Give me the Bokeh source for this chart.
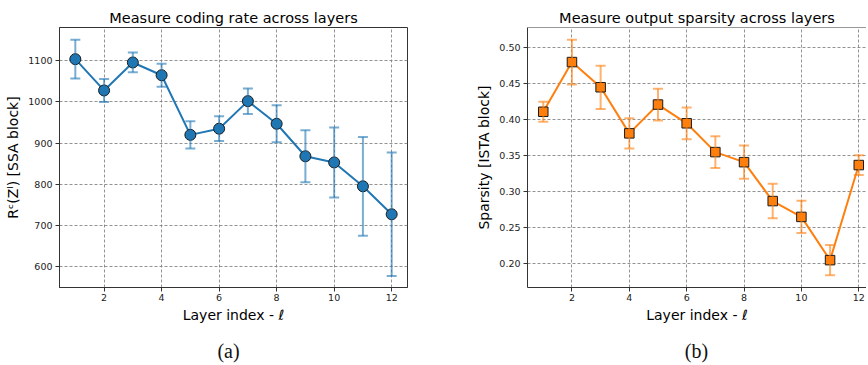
from bokeh.plotting import figure
from bokeh.models import ColumnDataSource, Whisker, TeeHead, FixedTicker, Range1d, Span, Label, NumeralTickFormatter
from bokeh.layouts import row, column
from bokeh.embed import file_html
from bokeh.resources import INLINE

layers = [1, 2, 3, 4, 5, 6, 7, 8, 9, 10, 11, 12]
coding_rate = [1104, 1028, 1096, 1065, 920, 935, 1002, 947, 868, 853, 795, 727]
coding_rate_err = [47, 28, 24, 28, 33, 30, 31, 45, 63, 85, 120, 150]
sparsity = [0.411, 0.480, 0.445, 0.381, 0.421, 0.395, 0.355, 0.341, 0.287, 0.265, 0.205, 0.337]
sparsity_err = [0.014, 0.031, 0.030, 0.021, 0.022, 0.022, 0.022, 0.023, 0.024, 0.0225, 0.021, 0.0137]
x_ticks = [2, 4, 6, 8, 10, 12]
y_ticks_a = [600, 700, 800, 900, 1000, 1100]
y_ticks_b = [0.20, 0.25, 0.30, 0.35, 0.40, 0.45, 0.50]
panel_labels = ["(a)", "(b)"]

BLUE = "#1f77b4"
ORANGE = "#ff7f0e"
FONT = "DejaVu Sans"

TOP_H = 325
MB_TOP = 27
MB_BOTTOM = 38


def style(p, yticks):
    p.title.text_font = FONT
    p.title.text_font_size = "14.5px"
    p.title.text_font_style = "normal"
    p.title.text_color = "black"
    p.title.align = "center"
    p.title.standoff = 4
    for ax in (p.xaxis[0], p.yaxis[0]):
        ax.major_label_text_font = FONT
        ax.major_label_text_font_size = "9.5px"
        ax.major_label_text_color = "#222222"
        ax.axis_label_text_font = FONT
        ax.axis_label_text_font_size = "14px"
        ax.axis_label_text_font_style = "normal"
        ax.axis_label_text_color = "black"
        ax.major_tick_in = 0
        ax.major_tick_out = 4
        ax.major_tick_line_color = "#333333"
        ax.minor_tick_line_color = None
        ax.axis_line_color = "#333333"
        ax.major_label_standoff = 3
        ax.axis_label_standoff = 4
    p.xaxis[0].major_label_standoff = 2
    p.xaxis[0].axis_label_standoff = 3
    p.xaxis[0].ticker = FixedTicker(ticks=x_ticks)
    p.yaxis[0].ticker = FixedTicker(ticks=yticks)
    for g in (p.xgrid[0], p.ygrid[0]):
        g.grid_line_color = "#777777"
        g.grid_line_dash = "3 2"
        g.grid_line_width = 0.8
    p.background_fill_color = "white"
    p.border_fill_color = "white"


def whisker(src, color):
    w = Whisker(base="x", upper="hi", lower="lo", source=src, line_color=color, line_width=2, line_alpha=0.6,
                upper_head=TeeHead(size=10, line_color=color, line_width=2, line_alpha=0.6),
                lower_head=TeeHead(size=10, line_color=color, line_width=2, line_alpha=0.6))
    w.level = "glyph"
    return w


# Panel (a)
pa = figure(width=450, height=TOP_H, output_backend="svg", toolbar_location=None,
            title="Measure coding rate across layers",
            x_range=Range1d(0.45, 12.55), y_range=Range1d(549, 1181),
            min_border_left=59, min_border_right=43, min_border_top=MB_TOP, min_border_bottom=MB_BOTTOM,
            x_axis_label="Layer index - ℓ", y_axis_label="Rᶜ(Zˡ) [SSA block]")
style(pa, y_ticks_a)
pa.outline_line_color = "#333333"
src_a = ColumnDataSource(dict(x=layers, y=coding_rate,
                              lo=[v - e for v, e in zip(coding_rate, coding_rate_err)],
                              hi=[v + e for v, e in zip(coding_rate, coding_rate_err)]))
pa.add_layout(whisker(src_a, BLUE))
pa.line("x", "y", source=src_a, line_color=BLUE, line_width=2)
pa.scatter("x", "y", source=src_a, marker="circle", size=11, fill_color=BLUE, line_color="#1a1a1a", line_width=1)

# Panel (b)
pb = figure(width=416, height=TOP_H, output_backend="svg", toolbar_location=None,
            title="Measure output sparsity across layers",
            x_range=Range1d(0.45, 12.27), y_range=Range1d(0.167, 0.528),
            min_border_left=77, min_border_right=0, min_border_top=MB_TOP, min_border_bottom=MB_BOTTOM,
            x_axis_label="Layer index - ℓ", y_axis_label="Sparsity [ISTA block]")
style(pb, y_ticks_b)
pb.yaxis[0].formatter = NumeralTickFormatter(format="0.00")
pb.outline_line_color = None
pb.add_layout(Span(location=0.528, dimension="width", line_color="#333333", line_width=1))
src_b = ColumnDataSource(dict(x=layers, y=sparsity,
                              lo=[v - e for v, e in zip(sparsity, sparsity_err)],
                              hi=[v + e for v, e in zip(sparsity, sparsity_err)]))
pb.add_layout(whisker(src_b, ORANGE))
pb.line("x", "y", source=src_b, line_color=ORANGE, line_width=2)
pb.scatter("x", "y", source=src_b, marker="square", size=9.5, fill_color=ORANGE, line_color="#1a1a1a", line_width=1)

# Sub-figure captions
pc = figure(width=866, height=38, output_backend="svg", toolbar_location=None,
            x_range=Range1d(0, 866), y_range=Range1d(0, 38),
            min_border_left=0, min_border_right=0, min_border_top=0, min_border_bottom=0)
pc.axis.visible = False
pc.grid.visible = False
pc.outline_line_color = None
for txt, xc in zip(panel_labels, [228, 696]):
    pc.add_layout(Label(x=xc, y=13, text=txt, text_align="center", text_baseline="middle",
                        text_font="Liberation Serif", text_font_size="20px", text_color="#111111"))

layout = column(row(pa, pb), pc)
open("out.html", "w").write(file_html(layout, INLINE))
